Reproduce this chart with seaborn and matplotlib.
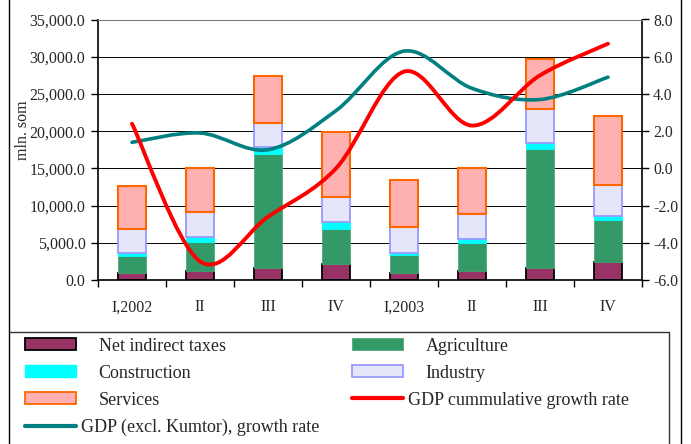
import numpy as np
import matplotlib.pyplot as plt
import seaborn as sns
from matplotlib.path import Path
from matplotlib.patches import PathPatch, Patch
from matplotlib.lines import Line2D
from matplotlib.ticker import FuncFormatter, FixedLocator

quarters = ["I,2002", "II", "III", "IV", "I,2003", "II", "III", "IV"]
taxes = [1000, 1250, 1570, 2100, 990, 1250, 1570, 2370]
agriculture = [2220, 3900, 15350, 4750, 2370, 3760, 15980, 5690]
construction = [360, 580, 980, 980, 220, 540, 800, 540]
industry = [3270, 3400, 3230, 3360, 3580, 3310, 4570, 4160]
services = [5770, 5950, 6270, 8640, 6270, 6225, 6720, 9310]
gdp_cum = [2.4, -5.0, -2.6, 0.0, 5.2, 2.3, 5.0, 6.7]
gdp_excl = [1.4, 1.9, 1.0, 3.1, 6.3, 4.3, 3.7, 4.9]

sns.set_theme(style="white")
plt.rcParams["font.family"] = ["Liberation Serif", "DejaVu Serif"]
plt.rcParams["axes.unicode_minus"] = False

W, H = 691, 444
fig = plt.figure(figsize=(W / 100, H / 100), dpi=100)
ax = fig.add_axes([98 / W, 1 - 280 / H, 544 / W, 260.5 / H])

layers = [
    ("Net indirect taxes", taxes, "#993366", "black", 1.3),
    ("Agriculture", agriculture, "#339966", "#4daa78", 0.6),
    ("Construction", construction, "#00ffff", "#00ffff", 0.6),
    ("Industry", industry, "#e6e6fb", "#9999ff", 1.3),
    ("Services", services, "#ffb0b0", "#ff6600", 1.5),
]
xpos = np.arange(len(quarters))
bottom = np.zeros(len(quarters))
for name, vals, fc, ec, lw in layers:
    sns.barplot(x=xpos, y=vals, bottom=bottom, color=fc, edgecolor=ec,
                linewidth=lw, width=0.41, saturation=1, errorbar=None, ax=ax)
    bottom = bottom + np.array(vals)

ax.set_ylim(0, 35000)
ax.set_xlim(-0.5, len(quarters) - 0.5)
ax.set_yticks(np.arange(0, 35001, 5000))
ax.yaxis.set_major_formatter(FuncFormatter(lambda v, p: f"{v:,.1f}"))
ax.xaxis.set_major_locator(FixedLocator(np.arange(-0.5, len(quarters), 1)))
ax.xaxis.set_minor_locator(FixedLocator(xpos))
ax.set_xticklabels([])
ax.set_xticklabels(quarters, minor=True)
ax.tick_params(axis="x", which="major", length=5, width=1, direction="out", color="black", bottom=True)
ax.tick_params(axis="x", which="minor", length=0, pad=14, labelsize=11.5)
ax.tick_params(axis="y", length=5, width=1, direction="out", color="black", left=True, pad=4, labelsize=11.5)
ax.set_xlabel("")
ax.set_ylabel("mln. som", fontsize=11.5)
ax.yaxis.set_label_coords(-0.123, 0.576)
ax.yaxis.grid(True, color="black", linewidth=0.7)
ax.set_axisbelow(True)
for s in ["left", "bottom", "right"]:
    ax.spines[s].set_color("black")
    ax.spines[s].set_linewidth(1.2)
ax.spines["top"].set_color("#808080")
ax.spines["top"].set_linewidth(0.8)


def smooth_path(xs, ys):
    pts = np.column_stack([xs, ys]).astype(float)
    n = len(pts)
    verts = [pts[0]]
    codes = [Path.MOVETO]
    for i in range(n - 1):
        p0 = pts[i - 1] if i > 0 else pts[i]
        p1, p2 = pts[i], pts[i + 1]
        p3 = pts[i + 2] if i + 2 < n else pts[i + 1]
        verts += [p1 + (p2 - p0) / 6, p2 - (p3 - p1) / 6, p2]
        codes += [Path.CURVE4] * 3
    return Path(verts, codes)


ax2 = ax.twinx()
ax2.set_ylim(-6, 8)
ax2.set_yticks(np.arange(-6, 8.1, 2))
ax2.yaxis.set_major_formatter(FuncFormatter(lambda v, p: f"{v:.1f}"))
ax2.tick_params(axis="y", length=5, width=1, direction="out", color="black", right=True, pad=3, labelsize=11.3)
ax2.grid(False)
for s in ax2.spines.values():
    s.set_visible(False)

teal = "#008080"
ax2.add_patch(PathPatch(smooth_path(xpos, gdp_excl), facecolor="none", edgecolor=teal,
                        linewidth=2.6, capstyle="round"))
ax2.add_patch(PathPatch(smooth_path(xpos, gdp_cum), facecolor="none", edgecolor="red",
                        linewidth=2.8, capstyle="round"))

# frame and legend box
fig.add_artist(Line2D([9 / W, 9 / W], [0, 1], color="black", lw=1))
fig.add_artist(Line2D([681 / W, 681 / W], [0, 1], color="black", lw=1))
fig.add_artist(Line2D([9 / W, 669 / W], [1 - 332 / H, 1 - 332 / H], color="#333333", lw=1))
fig.add_artist(Line2D([669 / W, 669 / W], [0, 1 - 332 / H], color="#333333", lw=1))

entries = [
    (Patch(facecolor="#993366", edgecolor="black", linewidth=1.3), "Net indirect taxes", 25, 346, 1.28),
    (Patch(facecolor="#339966", edgecolor="#4daa78", linewidth=0.6), "Agriculture", 352, 346, 1.28),
    (Patch(facecolor="#00ffff", edgecolor="#00ffff"), "Construction", 25, 373, 1.28),
    (Patch(facecolor="#e6e6fb", edgecolor="#9999ff", linewidth=1.3), "Industry", 352, 373, 1.28),
    (Patch(facecolor="#ffb0b0", edgecolor="#ff6600", linewidth=1.3), "Services", 25, 400, 1.28),
    (Line2D([], [], color="red", lw=3), "GDP cummulative growth rate", 352, 400, 0.28),
    (Line2D([], [], color=teal, lw=3), "GDP (excl. Kumtor), growth rate", 25, 427, 0.28),
]
for handle, label, px, py, pad in entries:
    leg = fig.legend([handle], [label], loc="center left", bbox_to_anchor=(px / W, 1 - py / H),
                     frameon=False, borderpad=0, borderaxespad=0, fontsize=13,
                     handlelength=2.8, handleheight=0.6, handletextpad=pad)

fig.savefig("out.png", dpi=100)
